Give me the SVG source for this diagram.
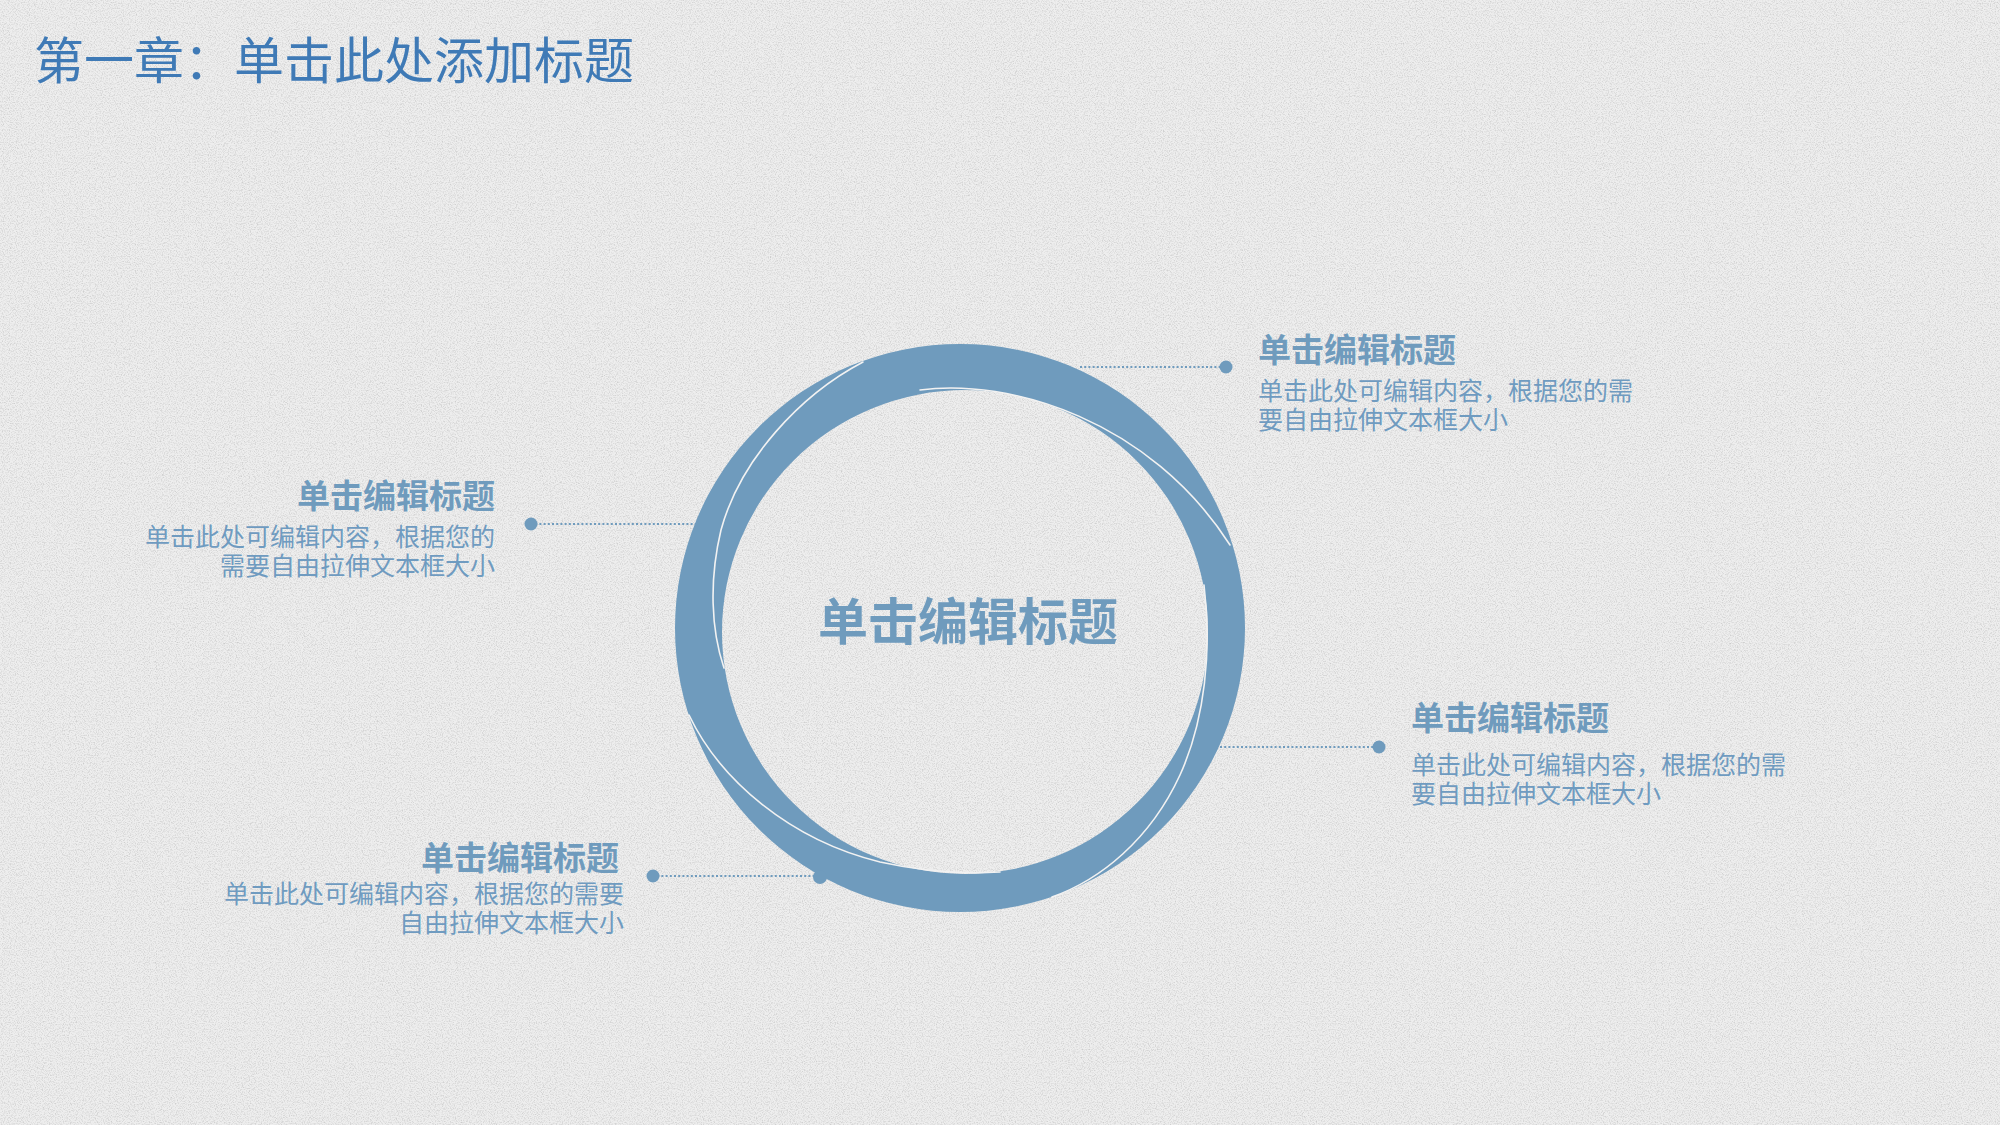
<svg xmlns="http://www.w3.org/2000/svg" width="2000" height="1125" viewBox="0 0 2000 1125">
  <defs>
    <filter id="noise" x="0" y="0" width="100%" height="100%">
      <feTurbulence type="fractalNoise" baseFrequency="0.85" numOctaves="2" seed="7" result="t"/>
      <feColorMatrix in="t" type="matrix" values="0 0 0 0 0.6  0 0 0 0 0.6  0 0 0 0 0.6  2.2 0 0 0 -0.95"/>
    </filter>
    <style>
      .cjk { font-family: "Noto Sans CJK SC", "Noto Sans", sans-serif; }
      .head { font-size: 33px; font-weight: 700; fill: #6f9bbd; }
      .body { font-size: 25px; font-weight: 400; fill: #6f9bc0; }
      .conn { stroke: #6f9bbd; stroke-width: 2.2; stroke-dasharray: 2 2.2; fill: none; }
      .dot { fill: #6f9bbd; }
      .seam { stroke: #f2f2f2; stroke-width: 1.6; fill: none; stroke-linecap: round; }
    </style>
  </defs>

  <rect width="2000" height="1125" fill="#eeeeee"/>
  <rect width="2000" height="1125" filter="url(#noise)"/>

  <text class="cjk" x="34" y="79" font-size="50" fill="#3f7ab6">第一章：单击此处添加标题</text>

  <g id="connectors">
    <line class="conn" x1="1080" y1="367" x2="1226" y2="367"/>
    <line class="conn" x1="531" y1="524" x2="696" y2="524"/>
    <line class="conn" x1="1220" y1="747" x2="1379" y2="747"/>
    <line class="conn" x1="653" y1="876" x2="822" y2="876"/>
    <circle class="dot" cx="1226" cy="367" r="6.5"/>
    <circle class="dot" cx="531" cy="524" r="6.5"/>
    <circle class="dot" cx="1379" cy="747" r="6.5"/>
    <circle class="dot" cx="653" cy="876" r="6.5"/>
  </g>

  <g id="ring">
    <path fill="#6f9bbd" fill-rule="evenodd" d="M 675 628 A 285 284 0 1 0 1245 628 A 285 284 0 1 0 675 628 Z M 722 632 A 243 242 0 1 1 1208 632 A 243 242 0 1 1 722 632 Z"/>
    <circle cx="820" cy="877" r="7" fill="#6f9bbd"/>
    <path class="seam" d="M 863 362 C 800 395, 740 460, 721 530 C 709 580, 711 630, 724 668"/>
    <path class="seam" d="M 920 390 C 1010 378, 1150 420, 1230 545"/>
    <path class="seam" d="M 1204 585 C 1212 650, 1205 720, 1180 775 C 1150 840, 1100 880, 1052 897"/>
    <path class="seam" d="M 689 715 C 720 780, 790 840, 880 862 C 930 873, 970 874, 1000 872"/>
    <text class="cjk" x="968" y="640" font-size="50" font-weight="700" fill="#6f9bbd" text-anchor="middle">单击编辑标题</text>
  </g>

  <g id="node-top-right">
    <text class="cjk head" x="1258" y="362">单击编辑标题</text>
    <text class="cjk body" x="1258" y="400">单击此处可编辑内容，根据您的需<tspan x="1258" dy="29">要自由拉伸文本框大小</tspan></text>
  </g>

  <g id="node-left">
    <text class="cjk head" x="495" y="508" text-anchor="end">单击编辑标题</text>
    <text class="cjk body" x="495" y="546" text-anchor="end">单击此处可编辑内容，根据您的<tspan x="495" dy="29">需要自由拉伸文本框大小</tspan></text>
  </g>

  <g id="node-right">
    <text class="cjk head" x="1411" y="730">单击编辑标题</text>
    <text class="cjk body" x="1411" y="774">单击此处可编辑内容，根据您的需<tspan x="1411" dy="29">要自由拉伸文本框大小</tspan></text>
  </g>

  <g id="node-bottom-left">
    <text class="cjk head" x="619" y="870" text-anchor="end">单击编辑标题</text>
    <text class="cjk body" x="624" y="903" text-anchor="end">单击此处可编辑内容，根据您的需要<tspan x="624" dy="29">自由拉伸文本框大小</tspan></text>
  </g>
</svg>
